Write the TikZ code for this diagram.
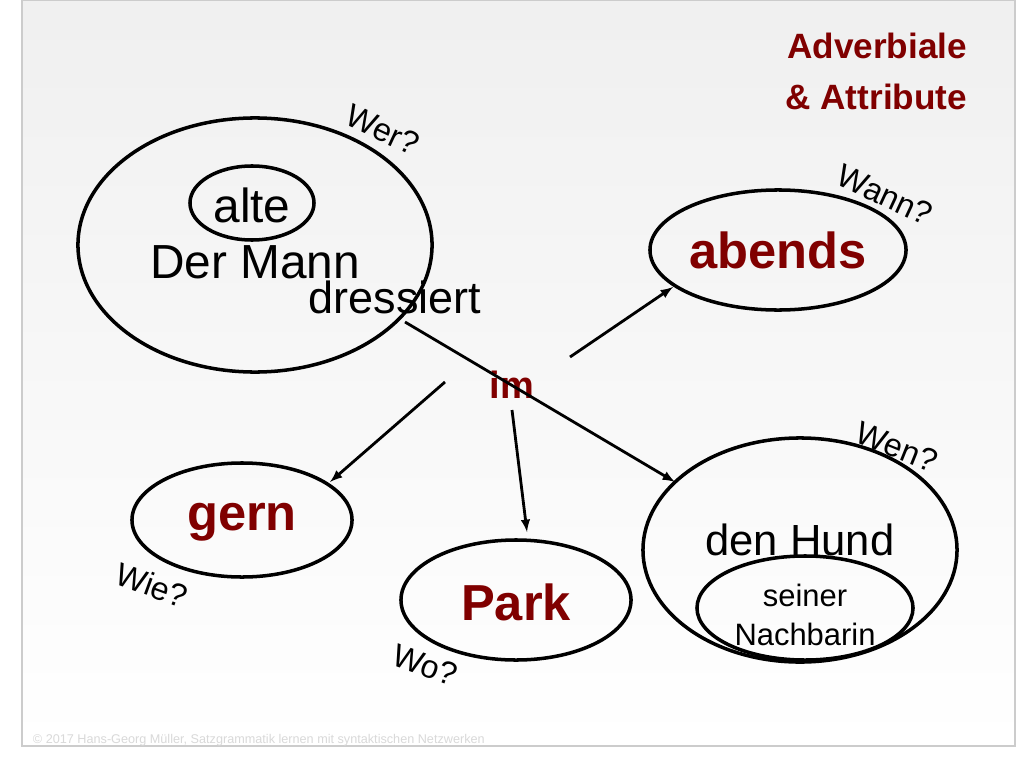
\documentclass[tikz,border=0pt]{standalone}
\usepackage{fontspec}
\setmainfont{Liberation Sans}
\usetikzlibrary{arrows,positioning,shapes.geometric}
\definecolor{darkred}{RGB}{128,0,0}
\begin{document}
\begin{tikzpicture}[x=0.025cm,y=-0.025cm]
      \tikzstyle{wort} = [ellipse, draw, line width=2.5pt, inner sep=0pt]
      \tikzstyle{frage} = [font=\fontsize{23}{25}\selectfont, inner sep=0pt]
      \tikzstyle{pfeil} = [-latex, line width=2pt]
      \useasboundingbox (0,0) rectangle (1024,768);
      \shade[top color=gray!12, bottom color=white, draw=gray!40, line width=1pt] (22,0) rectangle (1015,746);

      \node[wort, minimum width=8.85cm, minimum height=6.35cm] (mann) at (255,245) {};
      \node[wort, minimum width=3.1cm, minimum height=1.85cm] (alteE) at (252,203) {};
      \node[wort, minimum width=6.4cm, minimum height=3cm] (abendsE) at (778,250) {};
      \node[wort, minimum width=5.5cm, minimum height=2.85cm] (gernE) at (242,520) {};
      \node[wort, minimum width=5.75cm, minimum height=3cm] (parkE) at (516,600) {};
      \node[wort, minimum width=7.85cm, minimum height=5.6cm] (hundE) at (800,550) {};
      \node[wort, minimum width=5.4cm, minimum height=2.6cm] (nachbarinE) at (805,608) {};

      \node[font=\fontsize{34}{36}\selectfont] (alte) at (252,205) {alte};
      \node[font=\fontsize{34}{36}\selectfont] (dermann) at (255,262) {Der Mann};
      \node[font=\fontsize{32}{34}\selectfont] (dressiert) at (395,297) {dressiert};
      \node[font=\fontsize{36}{38}\selectfont\bfseries, text=darkred] (abends) at (778,250) {abends};
      \node[font=\fontsize{36}{38}\selectfont\bfseries, text=darkred] (gern) at (242,522) {gern};
      \node[font=\fontsize{36}{38}\selectfont\bfseries, text=darkred] (park) at (516,602) {Park};
      \node[font=\fontsize{27}{29}\selectfont\bfseries, text=darkred] (im) at (512,385) {im};
      \node[font=\fontsize{31}{33}\selectfont] (hund) at (800,540) {den Hund};
      \node[font=\fontsize{22}{28}\selectfont, align=center] (nachbarin) at (805,615) {seiner\\Nachbarin};
      \node[font=\fontsize{25}{36}\selectfont\bfseries, text=darkred, align=right, anchor=north east] (titel) at (972,28) {Adverbiale\\\& Attribute};

      \node[frage, rotate=-25] (wer) at (383,130) {Wer?};
      \node[frage, rotate=-25] (wann) at (885,195) {Wann?};
      \node[frage, rotate=-22] (wen) at (897,447) {Wen?};
      \node[frage, rotate=-20] (wie) at (152,585) {Wie?};
      \node[frage, rotate=-20] (wo) at (425,665) {Wo?};
      \node[font=\fontsize{9}{10}\selectfont, text=gray!30, anchor=west] (copy) at (28,740) {© 2017 Hans-Georg Müller, Satzgrammatik lernen mit syntaktischen Netzwerken};

      \coordinate (a1) at (405,322);
      \coordinate (a2) at (570,357);
      \coordinate (a3) at (445,382);
      \coordinate (a4) at (512,410);
      \coordinate (b1) at (675,482);
      \coordinate (b2) at (673,287);
      \coordinate (b3) at (330,482);
      \coordinate (b4) at (527,532);

      \draw[pfeil] (a1) -- (b1);
      \draw[pfeil] (a2) -- (b2);
      \draw[pfeil] (a3) -- (b3);
      \draw[pfeil] (a4) -- (b4);
    \end{tikzpicture}
\end{document}
